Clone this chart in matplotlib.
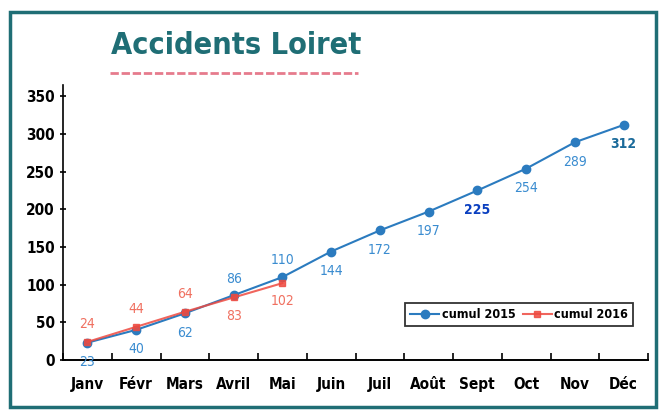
import matplotlib.pyplot as plt
from matplotlib.patches import Rectangle
from matplotlib.lines import Line2D

months = ['Janv', 'Févr', 'Mars', 'Avril', 'Mai', 'Juin', 'Juil', 'Août',
          'Sept', 'Oct', 'Nov', 'Déc']
cumul_2015 = [23, 40, 62, 86, 110, 144, 172, 197, 225, 254, 289, 312]
cumul_2016 = [24, 44, 64, 83, 102]
# label placement: True = above the point
above_2015 = [False, False, False, True, True, False, False, False, False, False, False, False]
above_2016 = [True, True, True, False, False]

blue = '#2b7bbf'
red = '#ee4a40'
teal = '#1f6e75'
font = ['DejaVu Sans']
st = 'condensed'

fig = plt.figure(figsize=(6.59, 4.12), dpi=100)
ax = fig.add_axes([63 / 659, 1 - 360 / 412, 585 / 659, 275 / 412])

x15 = list(range(len(cumul_2015)))
x16 = list(range(len(cumul_2016)))
ax.plot(x15, cumul_2015, color=blue, marker='o', ms=6, lw=1.5, label='cumul 2015', zorder=3)
ax.plot(x16, cumul_2016, color=red, marker='s', ms=5, lw=1.5, alpha=0.85, label='cumul 2016', zorder=4)

for x, v, up in zip(x15, cumul_2015, above_2015):
    col = '#0a3fc0' if v == 225 else ('#1a6a9a' if v == 312 else '#3a8cd0')
    ax.annotate(str(v), (x, v), xytext=(0, 12 if up else -14), textcoords='offset points',
                ha='center', va='center', fontsize=10, color=col, family=font, fontstretch=st,
                fontweight='bold' if v in (225, 312) else 'normal')
for x, v, up in zip(x16, cumul_2016, above_2016):
    ax.annotate(str(v), (x, v), xytext=(0, 13 if up else -13), textcoords='offset points',
                ha='center', va='center', fontsize=10, color='#f07060', family=font,
                fontstretch=st)

ax.set_xlim(-0.5, 11.5)
ax.set_ylim(0, 365)
ax.set_yticks(range(0, 351, 50))
ax.set_xticks([i - 0.5 for i in range(13)], minor=False)
ax.set_xticklabels([])
ax.set_xticks(x15, minor=True)
ax.set_xticklabels(months, minor=True, fontsize=11, fontweight='bold', family=font,
                   fontstretch=st)
ax.tick_params(axis='x', which='minor', length=0, pad=12)
ax.tick_params(axis='x', which='major', length=5, width=1.2, direction='in')
ax.tick_params(axis='y', length=5, width=1.2, direction='inout')
for lab in ax.get_yticklabels():
    lab.set_fontweight('bold')
    lab.set_fontsize(11)
    lab.set_family(font)
    lab.set_fontstretch(st)
ax.spines['top'].set_visible(False)
ax.spines['right'].set_visible(False)
ax.spines['left'].set_linewidth(1.2)
ax.spines['bottom'].set_linewidth(1.4)

leg = ax.legend(loc='lower right', bbox_to_anchor=(0.985, 0.10), ncol=2, frameon=True,
                fancybox=False, edgecolor='black', handlelength=2.3, columnspacing=0.6,
                handletextpad=0.2, borderpad=0.4,
                prop={'family': font, 'weight': 'bold', 'size': 9, 'stretch': st})
leg.get_frame().set_linewidth(1.3)

fig.text(236 / 659, 1 - 45 / 412, 'Accidents Loiret', ha='center', va='center',
         fontsize=22, fontweight='bold', color=teal, family=font, fontstretch=st)
fig.add_artist(Line2D([110 / 659, 358 / 659], [1 - 73 / 412] * 2, color='#e05a70',
                      lw=2, ls=(0, (3, 1)), alpha=0.8))

fig.add_artist(Rectangle((10 / 659, 5 / 412), 646 / 659, 395 / 412, fill=False,
                         edgecolor=teal, lw=2.5, transform=fig.transFigure))

fig.savefig('out.png', dpi=100)
